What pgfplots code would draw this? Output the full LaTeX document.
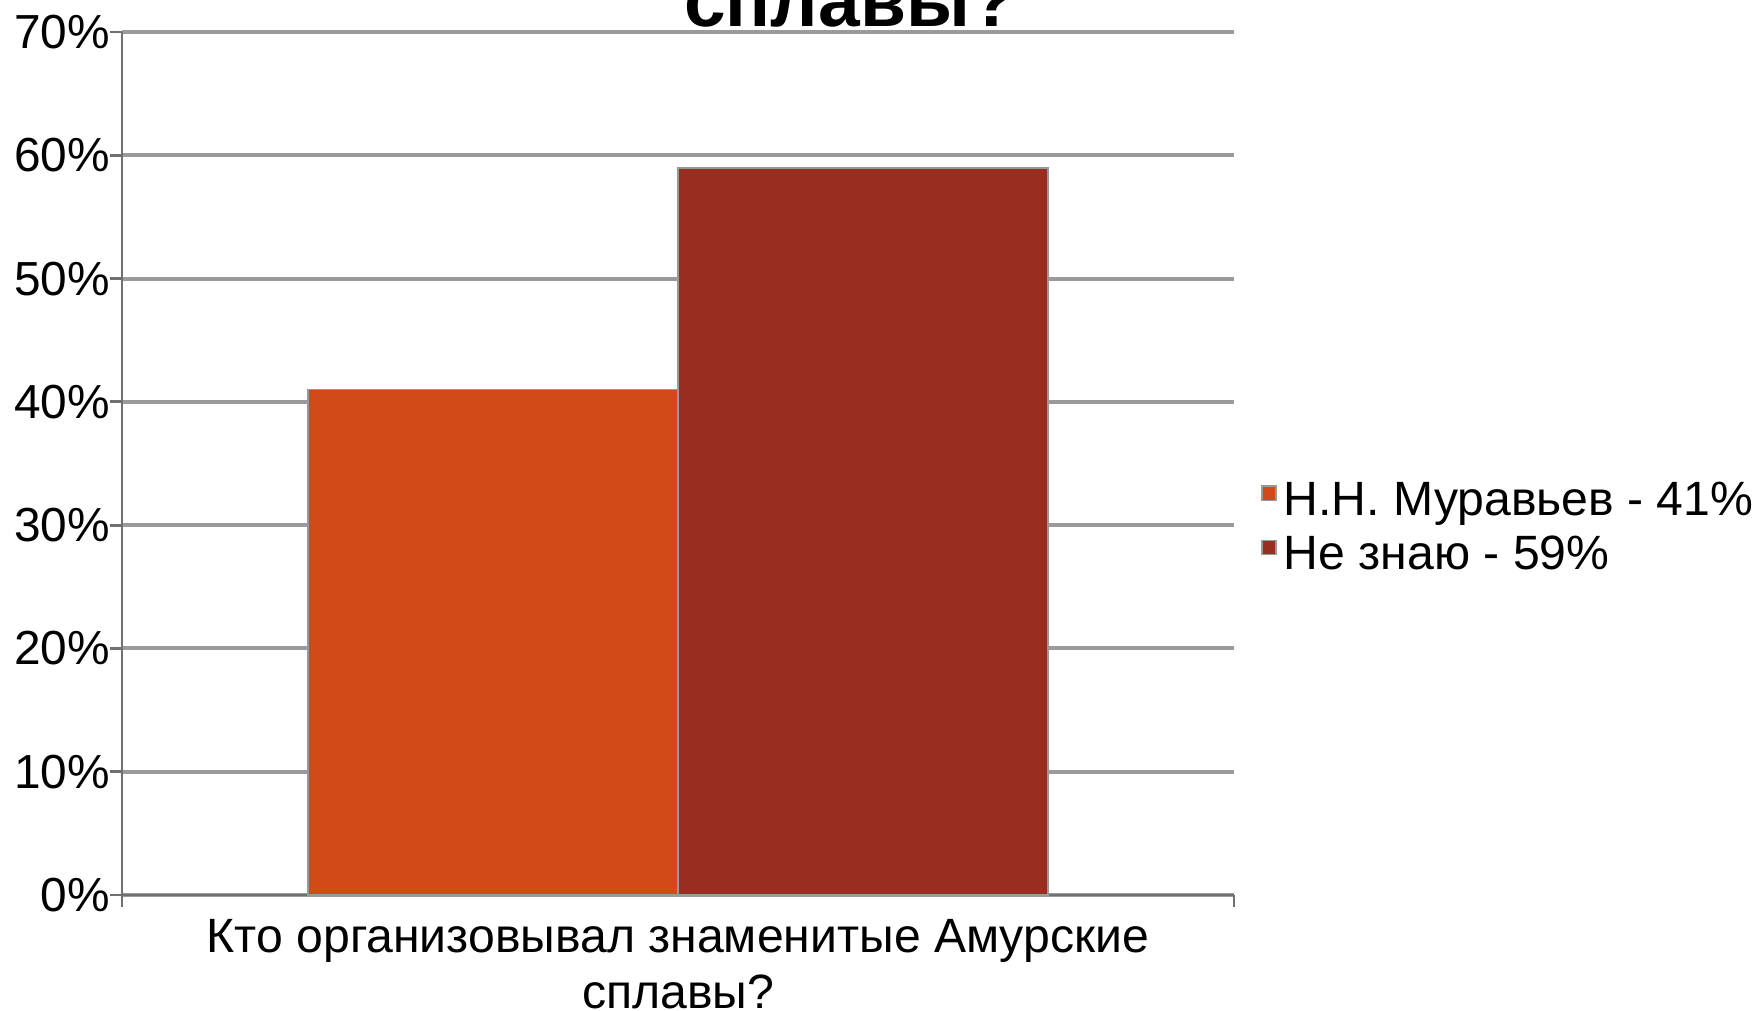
\documentclass[border=0pt]{standalone}
\usepackage{fontspec}
\setmainfont{Liberation Sans}
\usepackage{pgfplots}
\pgfplotsset{compat=1.18}

\definecolor{barA}{HTML}{D24A18}
\definecolor{barB}{HTML}{982D20}
\definecolor{gridc}{HTML}{9A9A9A}
\definecolor{axisc}{HTML}{707070}

\begin{document}
\begin{tikzpicture}
\useasboundingbox (0,0) rectangle (17.56cm,10.11cm);
\begin{axis}[
    at={(1.22cm,1.16cm)},
    scale only axis,
    width=11.12cm, height=8.63cm,
    xmin=-0.5, xmax=0.5,
    ymin=0, ymax=70,
    axis x line*=bottom, axis y line*=left,
    axis line style={axisc, line width=0.8pt},
    ytick={0,10,...,70},
    yticklabel={\pgfmathprintnumber{\tick}\%},
    /pgf/number format/assume math mode=true,
    xtick={-0.5,0.5}, xticklabels={},
    tick align=outside,
    major tick length=1.2mm,
    tick style={axisc, line width=0.8pt},
    ymajorgrids,
    grid style={gridc, line width=1.1pt},
    ticklabel style={font=\fontsize{13.6}{16}\selectfont, text=black},
    yticklabel style={inner sep=0pt, xshift=0.05mm},
    xlabel={Кто организовывал знаменитые Амурские\\сплавы?},
    xlabel style={at={(axis description cs:0.5,0)}, anchor=north, yshift=-2.4mm,
        align=center, inner sep=0pt,
        font=\fontsize{13.7}{15.8}\selectfont},
    ybar=0pt, bar width=3.7cm,
    legend cell align=left,
    legend image code/.code={\fill[#1] (0pt,-0.95pt) rectangle (4pt,3.05pt);},
    legend style={at={(axis description cs:1,0)}, anchor=north west,
        xshift=2.7mm, yshift=4.16cm, draw=none, fill=none,
        inner sep=0pt, outer sep=0pt, row sep=5.1pt,
        font=\fontsize{13.7}{16}\selectfont,
        nodes={inner sep=0pt, text height=10.3pt, text depth=0pt},
        /tikz/every odd column/.append style={column sep=0.7mm}},
    clip=false,
]
\addplot[fill=barA, draw=gray!80, line width=0.5pt] coordinates {(0,41)};
\addlegendentry{Н.Н. Муравьев - 41\%}
\addplot[fill=barB, draw=gray!80, line width=0.5pt] coordinates {(0,59)};
\addlegendentry{Не знаю - 59\%}
\end{axis}
\node[anchor=base, inner sep=0pt, font=\bfseries\fontsize{21.3}{25}\selectfont]
    at (8.50cm,9.84cm) {сплавы?};
\end{tikzpicture}
\end{document}
